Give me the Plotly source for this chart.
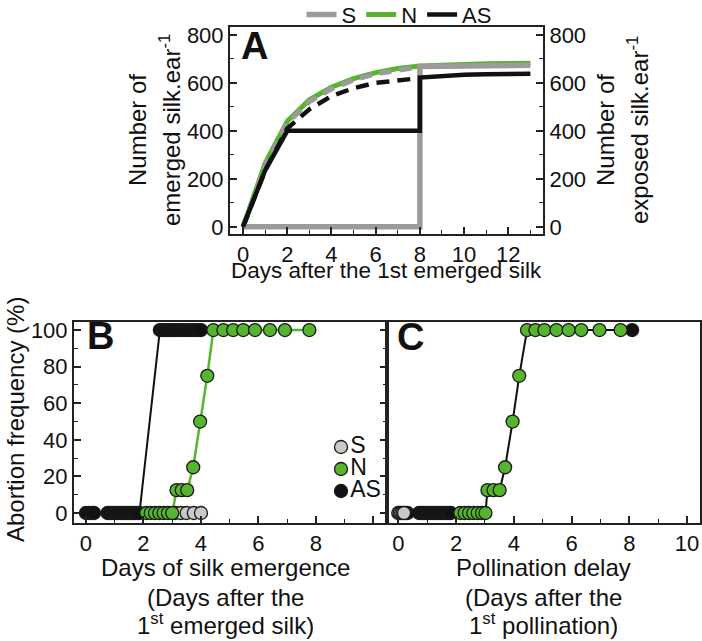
import plotly.graph_objects as go

W, H = 702, 641
def px(x): return x / W
def py(y): return 1 - y / H

FONT = "Liberation Sans, Arial, sans-serif"
GRAY = "#9b9b9b"; GREEN = "#57b52d"; BLACK = "#111111"; LGRAY = "#c9c9c9"; AXC = "#222222"

# ---------------- Panel A data ----------------
days = list(range(14))
n_silk = [0, 265, 440, 530, 582, 618, 643, 660, 670, 675, 678, 680, 681, 682]
emerged_days = list(range(9))
s_emerged = [0, 255, 432, 522, 575, 612, 638, 655, 667]
as_emerged = [0, 235, 410, 490, 545, 578, 600, 612, 620]
exposed_days = [0, 1, 2, 3, 4, 5, 6, 7, 8, 8, 9, 10, 11, 12, 13]
s_exposed = [0, 0, 0, 0, 0, 0, 0, 0, 0, 668, 670, 672, 673, 674, 674]
as_exposed = [0, 235, 400, 400, 400, 400, 400, 400, 400, 622, 630, 634, 636, 637, 638]

# ---------------- Panel B data ----------------
b_s_x = [3.1, 3.3, 3.5, 3.75, 4.0]
b_s_y = [0, 0, 0, 0, 0]
b_n_x = [2.1, 2.25, 2.4, 2.55, 2.7, 2.85, 3.0, 3.15, 3.33, 3.52, 3.73, 3.97, 4.22,
         4.43, 4.78, 5.12, 5.47, 5.88, 6.40, 6.92, 7.77]
b_n_y = [0, 0, 0, 0, 0, 0, 0, 12.5, 12.5, 12.5, 25, 50, 75,
         100, 100, 100, 100, 100, 100, 100, 100]
b_as_x = [0.0, 0.1, 0.2, 0.28, 0.75, 0.82, 0.9, 0.98, 1.06, 1.14, 1.22, 1.3, 1.38, 1.46,
          1.54, 1.62, 1.7, 1.78, 1.86,
          2.57, 2.65, 2.73, 2.81, 2.9, 3.0, 3.1, 3.2, 3.3, 3.4, 3.5, 3.6, 3.7, 3.8, 3.9, 4.0]
b_as_y = [0] * 19 + [100] * 16

# ---------------- Panel C data ----------------
c_s_x = [0.0, 0.05, 0.1, 0.15, 0.2]
c_s_y = [0, 0, 0, 0, 0]
c_n_x = [2.15, 2.3, 2.45, 2.6, 2.75, 2.9, 3.02, 3.09, 3.3, 3.51, 3.7, 3.96, 4.19,
         4.46, 4.75, 5.06, 5.48, 5.9, 6.34, 6.97, 7.7]
c_n_y = b_n_y
c_as_x = [0.25, 0.32, 0.72, 0.8, 0.88, 0.96, 1.04, 1.12, 1.2, 1.28, 1.36, 1.44, 1.52,
          1.6, 1.68, 1.76, 1.82, 8.1]
c_as_y = [0] * 17 + [100]

# legend keys for panel B
key_names = ["S", "N", "AS"]
key_colors = [LGRAY, GREEN, BLACK]

fig = go.Figure()

# Panel A traces
fig.add_trace(go.Scatter(x=days, y=n_silk, mode="lines", name="N",
                         line=dict(color=GREEN, width=5), xaxis="x", yaxis="y",
                         legendrank=2))
fig.add_trace(go.Scatter(x=emerged_days, y=s_emerged, mode="lines", showlegend=False,
                         line=dict(color=GRAY, width=5, dash="12px,8px"), xaxis="x", yaxis="y"))
fig.add_trace(go.Scatter(x=emerged_days, y=as_emerged, mode="lines", showlegend=False,
                         line=dict(color=BLACK, width=4.5, dash="13px,8px"), xaxis="x", yaxis="y"))
fig.add_trace(go.Scatter(x=exposed_days, y=s_exposed, mode="lines", name="S",
                         line=dict(color=GRAY, width=5.5), xaxis="x", yaxis="y2",
                         legendrank=1))
fig.add_trace(go.Scatter(x=exposed_days, y=as_exposed, mode="lines", name="AS",
                         line=dict(color=BLACK, width=4.5), xaxis="x", yaxis="y2",
                         legendrank=3))

# Panel B traces
fig.add_trace(go.Scatter(x=b_as_x, y=b_as_y, mode="lines", showlegend=False,
                         line=dict(color=BLACK, width=2), xaxis="x2", yaxis="y3"))
fig.add_trace(go.Scatter(x=b_n_x, y=b_n_y, mode="lines", showlegend=False,
                         line=dict(color=GREEN, width=2.5), xaxis="x2", yaxis="y3"))
mk = dict(size=13, line=dict(color="#1a1a1a", width=1.3))
fig.add_trace(go.Scatter(x=b_as_x, y=b_as_y, mode="markers", showlegend=False,
                         marker=dict(color=BLACK, **mk), xaxis="x2", yaxis="y3"))
fig.add_trace(go.Scatter(x=b_s_x, y=b_s_y, mode="markers", showlegend=False,
                         marker=dict(color=LGRAY, **mk), xaxis="x2", yaxis="y3"))
fig.add_trace(go.Scatter(x=b_n_x, y=b_n_y, mode="markers", showlegend=False,
                         marker=dict(color=GREEN, **mk), xaxis="x2", yaxis="y3"))

# Panel C traces: pooled line
pooled = sorted(zip(c_s_x + c_as_x + c_n_x, c_s_y + c_as_y + c_n_y))
fig.add_trace(go.Scatter(x=[p[0] for p in pooled], y=[p[1] for p in pooled], mode="lines",
                         showlegend=False, line=dict(color=BLACK, width=2),
                         xaxis="x3", yaxis="y4"))
fig.add_trace(go.Scatter(x=c_as_x, y=c_as_y, mode="markers", showlegend=False,
                         marker=dict(color=BLACK, **mk), xaxis="x3", yaxis="y4"))
fig.add_trace(go.Scatter(x=c_s_x, y=c_s_y, mode="markers", showlegend=False,
                         marker=dict(color=LGRAY, **mk), xaxis="x3", yaxis="y4"))
fig.add_trace(go.Scatter(x=c_n_x, y=c_n_y, mode="markers", showlegend=False,
                         marker=dict(color=GREEN, **mk), xaxis="x3", yaxis="y4"))

# Panel B key (legend) on its own hidden axes
fig.add_trace(go.Scatter(x=[0] * len(key_names), y=key_names, mode="markers+text",
                         text=key_names, textposition="middle right",
                         textfont=dict(family=FONT, size=23, color="#111"),
                         marker=dict(color=key_colors, **mk), showlegend=False,
                         cliponaxis=False, xaxis="x4", yaxis="y5"))

common = dict(showline=True, linecolor=AXC, linewidth=2, ticks="inside", tickcolor=AXC,
              tickwidth=1.5, ticklen=7, showgrid=False, zeroline=False, automargin=False,
              tickfont=dict(family=FONT, size=22, color="#111"))
minor = lambda d: dict(dtick=d, ticks="inside", ticklen=4, tickwidth=1.2, tickcolor=AXC,
                       showgrid=False)

fig.update_layout(
    template="none",
    width=W, height=H, margin=dict(l=0, r=0, t=0, b=0, autoexpand=False),
    paper_bgcolor="white", plot_bgcolor="rgba(0,0,0,0)",
    font=dict(family=FONT, color="#111"),
    showlegend=True,
    xaxis=dict(domain=[px(230), px(543)], anchor="y", range=[-0.59, 13.57],
               tick0=0, dtick=2, minor=minor(1), mirror=True, **common),
    yaxis=dict(domain=[py(234), py(27)], anchor="x", range=[-30, 833],
               tick0=0, dtick=200, minor=minor(100), **common),
    yaxis2=dict(overlaying="y", side="right", anchor="x", range=[-30, 833],
                tick0=0, dtick=200, minor=minor(100), **common),
    xaxis2=dict(domain=[px(74), px(387)], anchor="y3", range=[-0.417, 10.47],
                tickvals=[0, 2, 4, 6, 8, 10], ticktext=["0", "2", "4", "6", "8", ""],
                minor=minor(1), mirror=True, **common),
    yaxis3=dict(domain=[py(523), py(322)], anchor="x2", range=[-5.46, 104.4],
                tick0=0, dtick=20, minor=minor(10), mirror="allticks", **common),
    xaxis3=dict(domain=[px(387), px(700)], anchor="y4", range=[-0.39, 10.45],
                tick0=0, dtick=2, minor=minor(1), mirror=True, **common),
    yaxis4=dict(domain=[py(523), py(322)], anchor="x3", range=[-5.46, 104.4],
                showline=True, linecolor=AXC, linewidth=2, mirror=True, ticks="",
                showticklabels=False, showgrid=False, zeroline=False, automargin=False),
    xaxis4=dict(domain=[px(334), px(348)], anchor="y5", range=[-1, 1], visible=False,
                fixedrange=True),
    yaxis5=dict(domain=[py(502), py(436)], anchor="x4", type="category",
                categoryorder="array", categoryarray=key_names, range=[2.5, -0.5],
                visible=False, fixedrange=True),
    legend=dict(orientation="h", x=px(399), xanchor="center", y=1.01, yanchor="top",
                font=dict(family=FONT, size=22), bgcolor="rgba(0,0,0,0)",
                itemwidth=30, traceorder="normal"),
)

def ann(text, x, y, size=24, angle=0, bold=False):
    fig.add_annotation(text=text, x=px(x), y=py(y), xref="paper", yref="paper",
                       showarrow=False, xanchor="center", yanchor="middle", textangle=angle,
                       font=dict(family=FONT, size=size, color="#111",
                                 weight="bold" if bold else "normal"))

# Panel letters
ann("A", 254, 46, size=38, bold=True)
ann("B", 100, 336, size=38, bold=True)
ann("C", 410, 337, size=38, bold=True)

# Panel A titles
ann("Number of", 138, 130, angle=-90)
ann("emerged silk.ear<sup>-1</sup>", 170, 130, angle=-90)
ann("Number of", 606, 130, angle=-90)
ann("exposed silk.ear<sup>-1</sup>", 638, 130, angle=-90)
ann("Days after the 1st emerged silk", 386, 270, size=22.5)

# Panel B/C titles
ann("Abortion frequency (%)", 15, 420, angle=-90)
ann("Days of silk emergence", 225, 567)
ann("(Days after the", 225, 597)
ann("1<sup>st</sup> emerged silk)", 225, 624)
ann("Pollination delay", 543, 567)
ann("(Days after the", 543, 597)
ann("1<sup>st</sup> pollination)", 543, 624)

fig.write_html("out.html", config={"displayModeBar": False},
               post_script="document.body.style.margin='0';document.body.style.padding='0';")
